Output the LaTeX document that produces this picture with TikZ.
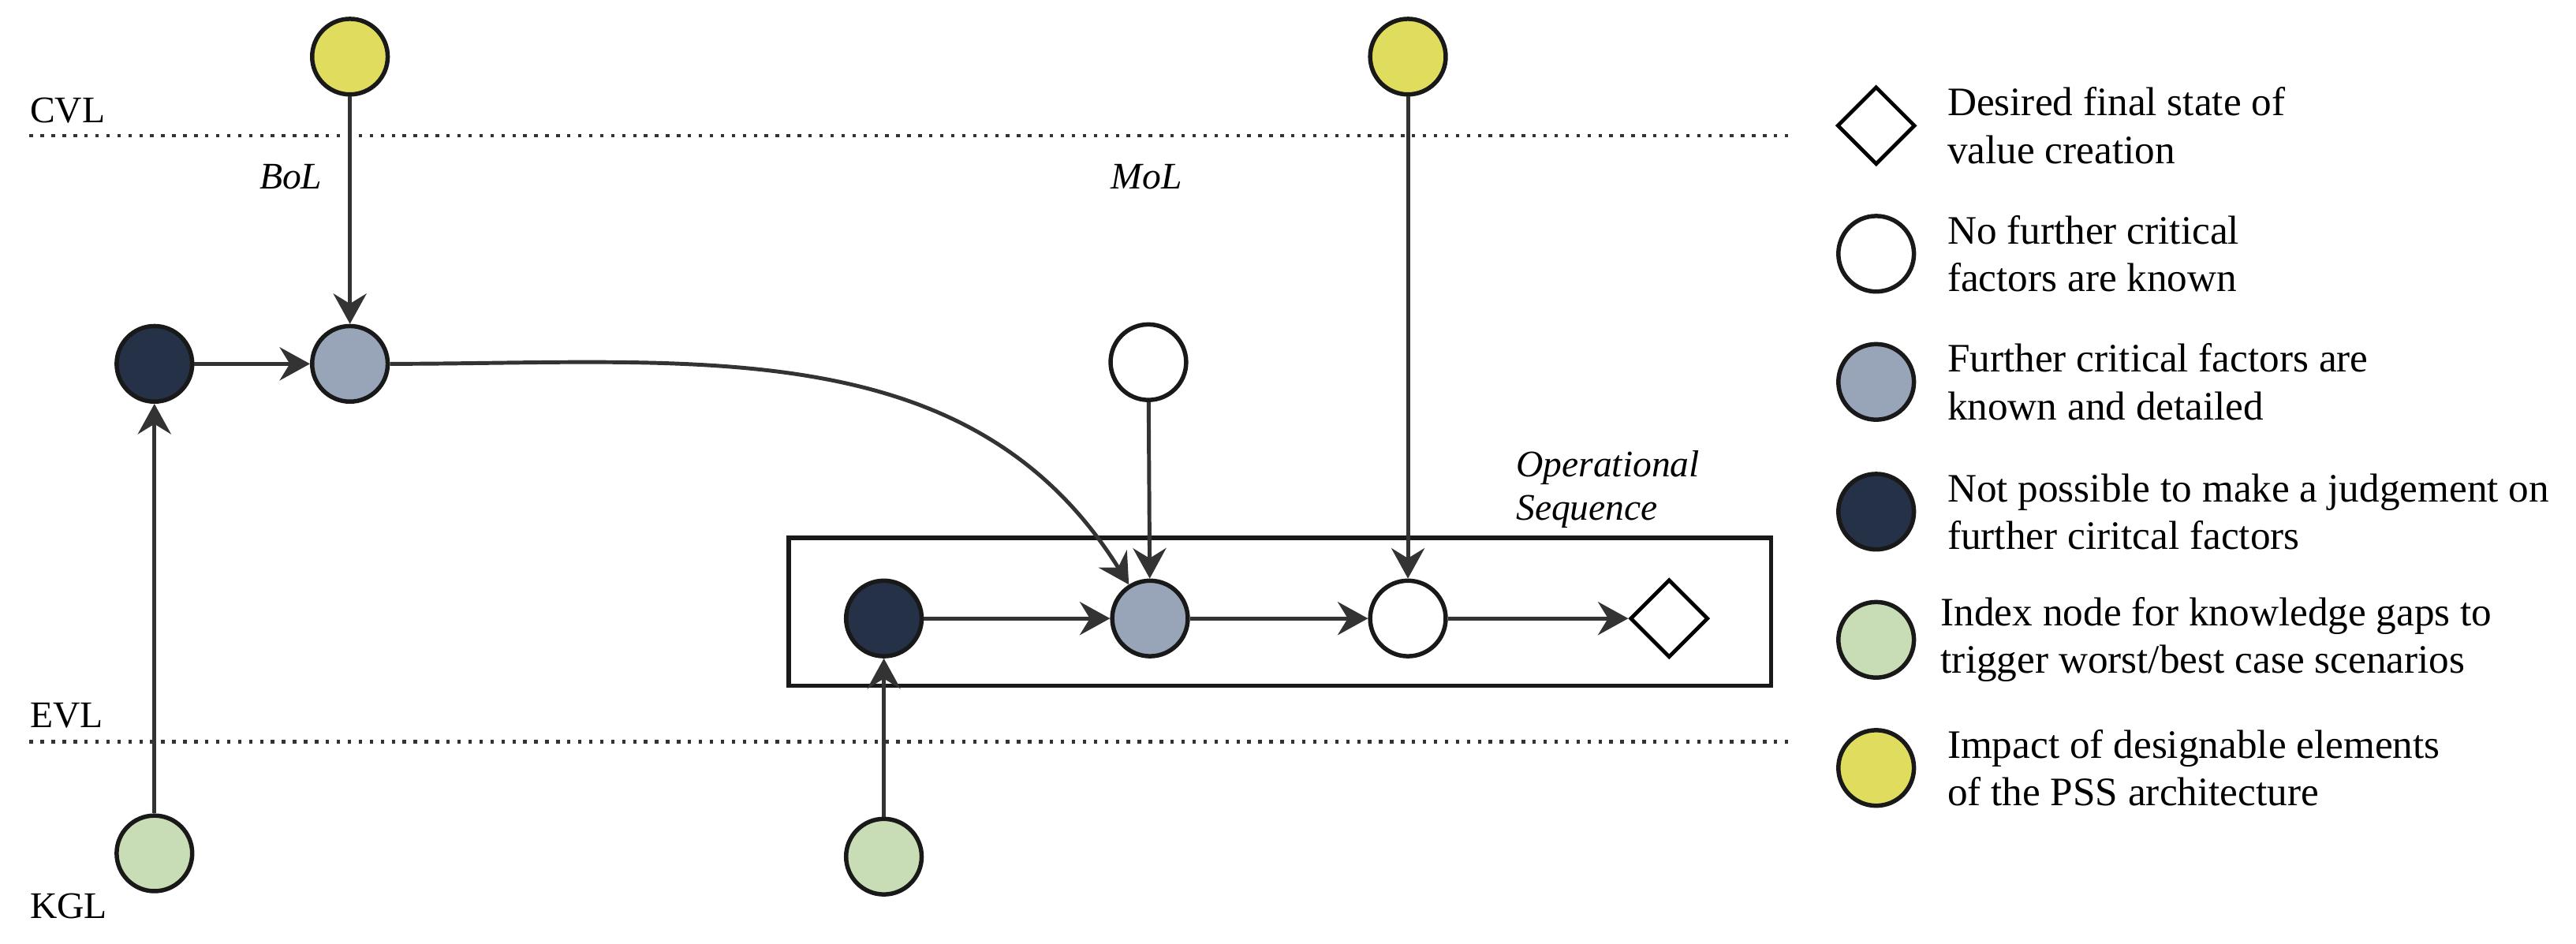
\documentclass[tikz,border=0pt]{standalone}
\usepackage{fontspec}
\setmainfont{Liberation Serif}
\usepackage{xcolor}
\usetikzlibrary{arrows.meta, positioning, shapes.geometric}
\tikzset{>={Stealth[length=10.5pt,width=11.5pt,inset=3.5pt]}}
\definecolor{impactyellow}{HTML}{E0DC5E}
\definecolor{knowngray}{HTML}{98A4B8}
\definecolor{unknownnavy}{HTML}{243147}
\definecolor{gapgreen}{HTML}{C8DDB5}
\definecolor{linkgray}{HTML}{333333}

\begin{document}
\begin{tikzpicture}[
	state/.style={circle, draw=black!90, line width=1.5pt, minimum size=0.92cm, inner sep=0pt},
	yel/.style={state, fill=impactyellow},
	known/.style={state, fill=knowngray},
	unknown/.style={state, fill=unknownnavy},
	clear/.style={state, fill=white},
	gap/.style={state, fill=gapgreen},
	goal/.style={diamond, draw=black, line width=1.3pt, minimum size=0.95cm, inner sep=0pt, fill=white},
	link/.style={->, draw=linkgray, line width=1.35pt},
	level/.style={dash pattern=on 1.2pt off 2.6pt, line width=1.2pt, draw=black!80},
	lbl/.style={font=\fontsize{13}{15}\selectfont, inner sep=0pt},
	legtext/.style={font=\fontsize{14}{16.5}\selectfont, align=left, anchor=west, inner sep=0pt}
]
	\useasboundingbox (0,0) rectangle (31.36,11.49);

	% levels
	\coordinate (cvlL) at (0.36,9.84);
	\coordinate (cvlR) at (21.8,9.84);
	\coordinate (evlL) at (0.36,2.46);
	\coordinate (evlR) at (21.8,2.46);
	\draw[level] (cvlL) -- (cvlR);
	\draw[level] (evlL) -- (evlR);
	\node[lbl, anchor=west] (cvl) at (0.36,10.14) {CVL};
	\node[lbl, anchor=west] (evl) at (0.36,2.78) {EVL};
	\node[lbl, anchor=west] (kgl) at (0.36,0.46) {KGL};
	\node[lbl] (bol) at (3.54,9.34) {\itshape BoL};
	\node[lbl] (mol) at (13.96,9.34) {\itshape MoL};

	% operational sequence
	\node[draw=black!90, line width=1.5pt, minimum width=11.96cm, minimum height=1.8cm] (opbox) at (15.58,4.04) {};
	\node[lbl, anchor=south west, align=left, font=\fontsize{13}{15}\selectfont\itshape] (optitle) at (18.45,5.05) {Operational\\Sequence};

	% nodes
	\node[yel] (y1) at (4.26,10.8) {};
	\node[yel] (y2) at (17.14,10.8) {};
	\node[unknown] (u1) at (1.88,7.06) {};
	\node[known] (k1) at (4.26,7.06) {};
	\node[clear] (c1) at (13.98,7.08) {};
	\node[unknown] (u2) at (10.76,3.96) {};
	\node[known] (k2) at (14.0,3.96) {};
	\node[clear] (c2) at (17.14,3.96) {};
	\node[goal] (g) at (20.32,3.96) {};
	\node[gap] (i1) at (1.88,1.1) {};
	\node[gap] (i2) at (10.76,1.06) {};

	% connectors
	\draw[link] (y1) -- (k1);
	\draw[link] (u1) -- (k1);
	\draw[link] (i1) -- (u1);
	\draw[link] (k1) to[out=0, in=122] (k2);
	\draw[link] (c1) -- (k2);
	\draw[link] (y2) -- (c2);
	\draw[link] (i2) -- (u2);
	\draw[link] (u2) -- (k2);
	\draw[link] (k2) -- (c2);
	\draw[link] (c2) -- (g);

	% legend
	\node[goal] (lg1) at (22.84,9.96) {};
	\node[clear] (lg2) at (22.84,8.4) {};
	\node[known] (lg3) at (22.84,6.84) {};
	\node[unknown] (lg4) at (22.84,5.26) {};
	\node[gap] (lg5) at (22.84,3.7) {};
	\node[yel] (lg6) at (22.84,2.14) {};
	\node[legtext] (lt1) at (23.7,9.96) {Desired final state of\\value creation};
	\node[legtext] (lt2) at (23.7,8.4) {No further critical\\factors are known};
	\node[legtext] (lt3) at (23.7,6.84) {Further critical factors are\\known and detailed};
	\node[legtext] (lt4) at (23.7,5.26) {Not possible to make a judgement on\\further ciritcal factors};
	\node[legtext] (lt5) at (23.62,3.7) {Index node for knowledge gaps to\\trigger worst/best case scenarios};
	\node[legtext] (lt6) at (23.7,2.14) {Impact of designable elements\\of the PSS architecture};
\end{tikzpicture}
\end{document}
